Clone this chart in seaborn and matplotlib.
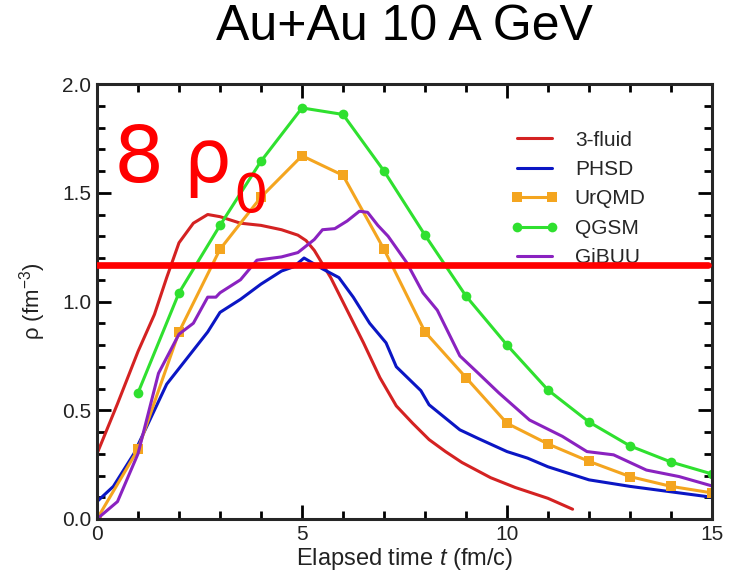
import matplotlib
matplotlib.use("Agg")
import matplotlib.pyplot as plt
import seaborn as sns
import numpy as np
from matplotlib.ticker import MultipleLocator

# ---------------- data ----------------
t_fluid = [0, 0.5, 1.0, 1.4, 1.7, 2.0, 2.35, 2.7, 3.0, 3.5, 4.0, 4.5, 4.9, 5.1, 5.3,
           5.7, 6.1, 6.5, 6.9, 7.3, 7.7, 8.1, 8.5, 8.9, 9.6, 10.2, 11.0, 11.6]
rho_fluid = [0.30, 0.53, 0.77, 0.94, 1.11, 1.27, 1.36, 1.40, 1.39, 1.36, 1.35, 1.33, 1.305, 1.28, 1.235,
             1.11, 0.96, 0.81, 0.65, 0.52, 0.44, 0.365, 0.31, 0.26, 0.19, 0.145, 0.095, 0.045]

t_phsd = [0, 0.4, 0.9, 1.3, 1.7, 2.2, 2.7, 3.0, 3.5, 4.0, 4.5, 4.8, 5.05, 5.5, 5.9, 6.25,
          6.65, 7.05, 7.3, 7.9, 8.1, 8.85, 9.3, 10.0, 10.5, 11.0, 12.0, 13.0, 14.0, 15.0]
rho_phsd = [0.08, 0.15, 0.30, 0.46, 0.62, 0.74, 0.86, 0.95, 1.01, 1.08, 1.14, 1.16, 1.20, 1.15, 1.11, 1.02,
            0.90, 0.81, 0.70, 0.59, 0.525, 0.41, 0.37, 0.31, 0.28, 0.24, 0.18, 0.15, 0.125, 0.10]

t_urqmd = list(range(0, 16))
rho_urqmd = [0.0, 0.32, 0.86, 1.24, 1.48, 1.67, 1.58, 1.24, 0.86, 0.65, 0.44, 0.345, 0.265, 0.195, 0.15, 0.12]

t_qgsm = list(range(1, 16))
rho_qgsm = [0.58, 1.04, 1.35, 1.645, 1.89, 1.86, 1.60, 1.305, 1.025, 0.80, 0.593, 0.446, 0.336, 0.262, 0.207]

t_gibuu = [0, 0.5, 1.0, 1.5, 2.0, 2.35, 2.7, 2.9, 3.0, 3.5, 3.9, 4.5, 4.9, 5.3, 5.5, 5.8, 6.1,
           6.4, 6.6, 6.85, 7.1, 7.55, 7.95, 8.3, 8.85, 9.3, 9.8, 10.55, 11.35, 11.95, 12.6, 13.4, 14.2, 15.0]
rho_gibuu = [0.0, 0.08, 0.30, 0.67, 0.85, 0.90, 1.02, 1.02, 1.04, 1.10, 1.19, 1.205, 1.225, 1.285, 1.33, 1.335, 1.37,
             1.415, 1.41, 1.35, 1.30, 1.18, 1.04, 0.96, 0.75, 0.67, 0.58, 0.455, 0.38, 0.31, 0.295, 0.225, 0.195, 0.152]

rho_8rho0 = 1.17

title_text = "Au+Au 10 A GeV"
xlabel_text = "Elapsed time $t$ (fm/c)"
ylabel_text = "ρ (fm$^{-3}$)"

# ---------------- plot ----------------
sns.set_style("ticks")
plt.rcParams["font.family"] = ["Liberation Sans", "DejaVu Sans"]
plt.rcParams["mathtext.fontset"] = "custom"
plt.rcParams["mathtext.rm"] = "Liberation Sans"
plt.rcParams["mathtext.it"] = "Liberation Sans:italic"

fig = plt.figure(figsize=(7.33, 5.77), dpi=100)
ax = fig.add_axes([97/733, 1 - 519/577, 615/733, 435/577])

lw = 2.2
sns.lineplot(x=t_fluid, y=rho_fluid, ax=ax, color="#d42222", lw=lw, label="3-fluid")
sns.lineplot(x=t_phsd, y=rho_phsd, ax=ax, color="#0b16c4", lw=lw, label="PHSD")
sns.lineplot(x=t_urqmd, y=rho_urqmd, ax=ax, color="#f4a51f", lw=lw, marker="s",
             markersize=7, markeredgewidth=0, label="UrQMD")
sns.lineplot(x=t_qgsm, y=rho_qgsm, ax=ax, color="#2fe02f", lw=lw, marker="o",
             markersize=7, markeredgewidth=0, label="QGSM")
sns.lineplot(x=t_gibuu, y=rho_gibuu, ax=ax, color="#8a22c0", lw=lw, label="GiBUU")

ax.axhline(rho_8rho0, xmin=0, xmax=0.9935, color="#ff0000", lw=4.8, zorder=10)

ax.set_xlim(0, 15)
ax.set_ylim(0, 2.0)
ax.xaxis.set_minor_locator(MultipleLocator(1))
ax.yaxis.set_minor_locator(MultipleLocator(0.1))
ax.set_xticks([0, 5, 10, 15])
ax.set_xticklabels(["0", "5", "10", "15"])
ax.set_yticks([0, 0.5, 1.0, 1.5, 2.0])
ax.set_yticklabels(["0.0", "0.5", "1.0", "1.5", "2.0"])
ax.tick_params(which="both", direction="in", top=True, right=True, width=2,
               labelsize=15, colors="black", labelcolor="#222222")
ax.tick_params(which="major", length=10, pad=4)
ax.tick_params(which="minor", length=6)
for s in ax.spines.values():
    s.set_linewidth(2.2)
    s.set_visible(True)

ax.set_xlabel(xlabel_text, fontsize=17, color="#222222", labelpad=2)
ax.set_ylabel(ylabel_text, fontsize=16, color="#222222", labelpad=10)

leg = ax.legend(loc="upper left", bbox_to_anchor=(0.672, 0.893), frameon=False,
                fontsize=15, handlelength=2.3, handletextpad=0.8, labelspacing=0.5,
                numpoints=2, borderaxespad=0, borderpad=0)
leg.set_zorder(5)

fig.text(404/733, 1 - 27/577, title_text, ha="center", va="center", fontsize=36,
         color="black", family=["Liberation Sans"])

fig.text(114/733, 1 - 182/577, "8", ha="left", va="baseline",
         fontsize=57, color="#ff0000", family=["DejaVu Sans"], zorder=11)
fig.text(183/733, 1 - 182/577, "ρ", ha="left", va="baseline",
         fontsize=54, color="#ff0000", family=["DejaVu Sans"], zorder=11)
fig.text(233/733, 1 - 212/577, "0", ha="left", va="baseline",
         fontsize=39, color="#ff0000", family=["DejaVu Sans"], zorder=11)

fig.savefig("out.png", dpi=100)
